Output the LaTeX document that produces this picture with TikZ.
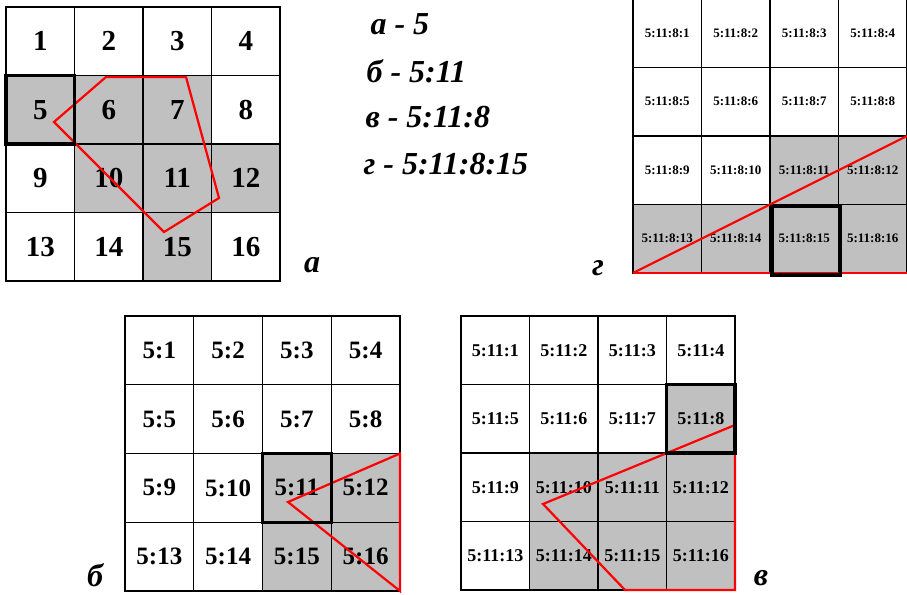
\documentclass[tikz,border=0pt]{standalone}
\usepackage{fontspec}
\setmainfont{Liberation Serif}
\usetikzlibrary{positioning}
\definecolor{cellgray}{RGB}{192,192,192}
\definecolor{red1}{RGB}{255,0,0}

\tikzset{
  gridcell/.style={draw, line width=1.2pt, minimum size=#1, inner sep=0pt, outer sep=0pt},
  shadecell/.style={fill=cellgray},
  selbox/.style={draw, line width=3.5pt},
  redline/.style={draw=red1, line width=2.2pt, line join=miter},
  partlabel/.style={font=\fontsize{32}{36}\selectfont\bfseries\itshape},
}

\begin{document}
\begin{tikzpicture}[x=1pt, y=-1pt]
\useasboundingbox (0,0) rectangle (907,594);

% grid a
\foreach \n in {5,6,7,10,11,12,15}{
  \pgfmathsetmacro\cx{6+68.5*mod(\n-1,4)}
  \pgfmathsetmacro\cy{7+68.5*div(\n-1,4)}
  \fill[shadecell] (\cx,\cy) rectangle +(68.5,68.5);
}
\foreach \n in {1,...,16}{
  \pgfmathsetmacro\cx{6+68.5*(mod(\n-1,4)+0.5)}
  \pgfmathsetmacro\cy{7+68.5*(div(\n-1,4)+0.5)}
  \node[gridcell=68.5pt, font=\fontsize{29}{33}\selectfont\bfseries] (a\n) at (\cx,\cy) {\n};
}
\draw[redline] (106,77) -- (186,77) -- (219,198) -- (164,232) -- (54,122) -- cycle;
\draw[selbox] (a5.south west) rectangle (a5.north east);
\node[partlabel] (la) at (312,265) {а};

% grid b
\foreach \n in {11,12,15,16}{
  \pgfmathsetmacro\cx{125+68.75*mod(\n-1,4)}
  \pgfmathsetmacro\cy{316+68.75*div(\n-1,4)}
  \fill[shadecell] (\cx,\cy) rectangle +(68.75,68.75);
}
\foreach \n in {1,...,16}{
  \pgfmathsetmacro\cx{125+68.75*(mod(\n-1,4)+0.5)}
  \pgfmathsetmacro\cy{316+68.75*(div(\n-1,4)+0.5)}
  \node[gridcell=68.75pt, font=\fontsize{25}{30}\selectfont\bfseries] (b\n) at (\cx,\cy) {5:\n};
}
\draw[redline] (b12.north east) -- (288,502) -- (b16.south east) -- cycle;
\draw[selbox] (b11.south west) rectangle (b11.north east);
\node[partlabel, inner sep=1pt] (lb) at (95,575) {б};

% grid v
\foreach \n in {8,10,11,12,14,15,16}{
  \pgfmathsetmacro\cx{461+68.5*mod(\n-1,4)}
  \pgfmathsetmacro\cy{316+68.5*div(\n-1,4)}
  \fill[shadecell] (\cx,\cy) rectangle +(68.5,68.5);
}
\foreach \n in {1,...,16}{
  \pgfmathsetmacro\cx{461+68.5*(mod(\n-1,4)+0.5)}
  \pgfmathsetmacro\cy{316+68.5*(div(\n-1,4)+0.5)}
  \node[gridcell=68.5pt, font=\fontsize{18}{22}\selectfont\bfseries] (c\n) at (\cx,\cy) {5:11:\n};
}
\draw[redline] (735,425) -- (543,504) -- (625,590) -- (c16.south east) -- cycle;
\draw[selbox] (c8.south west) rectangle (c8.north east);
\node[partlabel, inner sep=1pt] (lc) at (761,578) {в};

% grid g
\foreach \n in {11,12,13,14,15,16}{
  \pgfmathsetmacro\cx{633+68.5*mod(\n-1,4)}
  \pgfmathsetmacro\cy{-1+68.5*div(\n-1,4)}
  \fill[shadecell] (\cx,\cy) rectangle +(68.5,68.5);
}
\foreach \n in {1,...,16}{
  \pgfmathsetmacro\cx{633+68.5*(mod(\n-1,4)+0.5)}
  \pgfmathsetmacro\cy{-1+68.5*(div(\n-1,4)+0.5)}
  \node[gridcell=68.5pt, font=\fontsize{13}{16}\selectfont\bfseries] (d\n) at (\cx,\cy) {5:11:8:\n};
}
\draw[redline] (d13.south west) -- (d12.north east);
\draw[redline] (d13.south west) -- (d16.south east);
\draw[selbox] ([shift={(2,2)}]d15.south west) rectangle ([shift={(2,2)}]d15.north east);
\node[partlabel] (ld) at (598,268) {г};

% legend
\node[partlabel, anchor=base west] (t1) at (367,35) {а - 5};
\node[partlabel, anchor=base west] (t2) at (363,82) {б - 5:11};
\node[partlabel, anchor=base west] (t3) at (362,127) {в - 5:11:8};
\node[partlabel, anchor=base west] (t4) at (360,174) {г - 5:11:8:15};
\end{tikzpicture}
\end{document}
